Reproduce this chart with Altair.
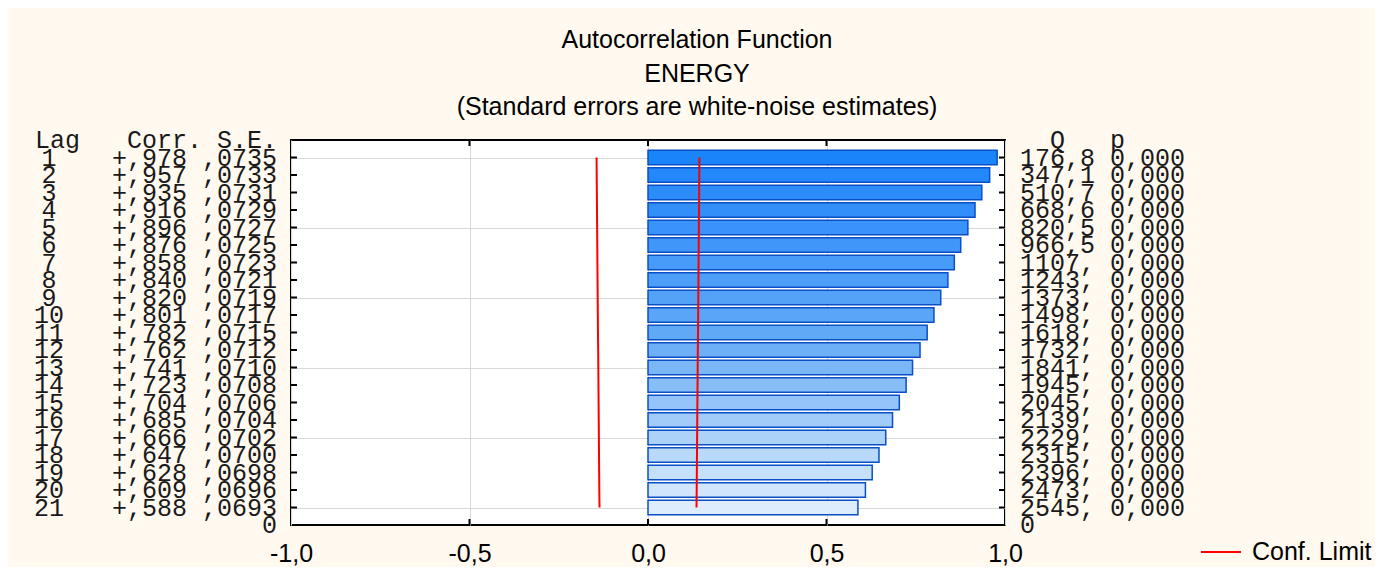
import altair as alt
import pandas as pd

# ---- data ----
lags = list(range(1, 22))
corr = [0.978, 0.957, 0.935, 0.916, 0.896, 0.876, 0.858, 0.840, 0.820, 0.801, 0.782,
        0.762, 0.741, 0.723, 0.704, 0.685, 0.666, 0.647, 0.628, 0.609, 0.588]
se = [0.0735, 0.0733, 0.0731, 0.0729, 0.0727, 0.0725, 0.0723, 0.0721, 0.0719, 0.0717, 0.0715,
      0.0712, 0.0710, 0.0708, 0.0706, 0.0704, 0.0702, 0.0700, 0.0698, 0.0696, 0.0693]
q_stat = [176.8, 347.1, 510.7, 668.6, 820.5, 966.5, 1107, 1243, 1373, 1498, 1618,
          1732, 1841, 1945, 2045, 2139, 2229, 2315, 2396, 2473, 2545]
p_val = [0.0] * 21
x_ticks = [-1.0, -0.5, 0.0, 0.5, 1.0]
inner_x_ticks = [-0.5, 0.0, 0.5]
title_lines = ["Autocorrelation Function", "ENERGY", "(Standard errors are white-noise estimates)"]
legend_label = "Conf. Limit"


def q_text(q):
    return f"{q:.1f}".replace(".", ",") if q < 1000 else f"{int(q)},"


def p_text(p):
    return f"{p:.3f}".replace(".", ",")


df = pd.DataFrame({"lag": lags, "corr": corr, "se": se})
df["lag_txt"] = [str(l) for l in lags]
df["left_txt"] = ["+," + f"{c:.3f}"[2:] + " ," + f"{s:.4f}"[2:] for c, s in zip(corr, se)]
df["right_txt"] = [f"{q_text(q):<5} {p_text(p)}" for q, p in zip(q_stat, p_val)]

conf_rows = []
for l, s in zip(lags, se):
    conf_rows.append({"lag": l, "limit": -1.96 * s, "side": "neg", "series": legend_label})
    conf_rows.append({"lag": l, "limit": 1.96 * s, "side": "pos", "series": legend_label})
conf_df = pd.DataFrame(conf_rows)

hdr_df = pd.DataFrame({"lag": [0], "a": ["Lag"], "b": ["Corr. S.E."], "q": ["Q"], "p": ["p"]})
zero_df = pd.DataFrame({"lag": [22], "t": ["0"]})
xt_df = pd.DataFrame({"xv": inner_x_ticks})

W, H = 714, 385
xs = alt.Scale(domain=[-1, 1], nice=False, zero=False)
ys = alt.Scale(domain=[0, 22], nice=False, zero=False, reverse=True)

x_axis = alt.Axis(values=x_ticks,
                  labelExpr="replace(replace(format(datum.value, '.1f'), '.', ','), '\u2212', '-')",
                  grid=True, gridColor="#d9d9d9", gridWidth=1, ticks=False, domain=False,
                  labelFont="Liberation Sans", labelFontSize=25, labelColor="black",
                  labelPadding=16, labelFlush=False, title=None)
y_axis = alt.Axis(values=lags, grid=True, gridColor="#d9d9d9", gridWidth=1,
                  labels=False, ticks=False, domain=False, title=None)

bars = alt.Chart(df).transform_calculate(
    y0="datum.lag - 0.41", y1="datum.lag + 0.41", x0="0"
).mark_rect(stroke="#0b4fc6", strokeWidth=1.5).encode(
    x=alt.X("x0:Q", scale=xs, axis=x_axis),
    x2="corr:Q",
    y=alt.Y("y0:Q", scale=ys, axis=y_axis),
    y2="y1:Q",
    fill=alt.Fill("lag:Q", scale=alt.Scale(domain=[1, 11, 21],
                                           range=["#1a84fb", "#60a9f6", "#ddedfd"]), legend=None),
)

lines = alt.Chart(conf_df).mark_line(strokeWidth=2).encode(
    x=alt.X("limit:Q", scale=xs),
    y=alt.Y("lag:Q", scale=ys),
    detail="side:N",
    order="lag:Q",
    stroke=alt.Stroke("series:N", scale=alt.Scale(domain=[legend_label], range=["#ff0000"]),
                      legend=alt.Legend(orient="none", legendX=909, legendY=391, title=None,
                                        symbolType="stroke", symbolSize=1600, symbolStrokeWidth=2,
                                        labelFont="Liberation Sans", labelFontSize=25,
                                        labelColor="black", labelOffset=10, padding=0)),
)

tick_l = alt.Chart(df).mark_rule(color="black", strokeWidth=2).encode(
    x=alt.value(0), x2=alt.value(6), y=alt.Y("lag:Q", scale=ys))
tick_r = alt.Chart(df).mark_rule(color="black", strokeWidth=2).encode(
    x=alt.value(W - 6), x2=alt.value(W), y=alt.Y("lag:Q", scale=ys))
tick_t = alt.Chart(xt_df).mark_rule(color="black", strokeWidth=2).encode(
    x=alt.X("xv:Q", scale=xs), y=alt.value(0), y2=alt.value(6))
tick_b = alt.Chart(xt_df).mark_rule(color="black", strokeWidth=2).encode(
    x=alt.X("xv:Q", scale=xs), y=alt.value(H - 6), y2=alt.value(H))

mono = dict(font="Liberation Mono", fontSize=25, baseline="middle", color="#1a1a1a")
lag_txt = alt.Chart(df).mark_text(align="center", **mono).encode(
    x=alt.value(-242), y=alt.Y("lag:Q", scale=ys), text="lag_txt:N")
left_txt = alt.Chart(df).mark_text(align="right", **mono).encode(
    x=alt.value(-14), y=alt.Y("lag:Q", scale=ys), text="left_txt:N")
right_txt = alt.Chart(df).mark_text(align="left", **mono).encode(
    x=alt.value(W + 15), y=alt.Y("lag:Q", scale=ys), text="right_txt:N")
hdr_a = alt.Chart(hdr_df).mark_text(align="left", **mono).encode(
    x=alt.value(-256), y=alt.Y("lag:Q", scale=ys), text="a:N")
hdr_b = alt.Chart(hdr_df).mark_text(align="right", **mono).encode(
    x=alt.value(-14), y=alt.Y("lag:Q", scale=ys), text="b:N")
hdr_q = alt.Chart(hdr_df).mark_text(align="left", **mono).encode(
    x=alt.value(W + 45), y=alt.Y("lag:Q", scale=ys), text="q:N")
hdr_p = alt.Chart(hdr_df).mark_text(align="left", **mono).encode(
    x=alt.value(W + 105), y=alt.Y("lag:Q", scale=ys), text="p:N")
zero_l = alt.Chart(zero_df).mark_text(align="right", **mono).encode(
    x=alt.value(-14), y=alt.Y("lag:Q", scale=ys), text="t:N")
zero_r = alt.Chart(zero_df).mark_text(align="left", **mono).encode(
    x=alt.value(W + 15), y=alt.Y("lag:Q", scale=ys), text="t:N")

chart = alt.layer(
    bars, lines, tick_l, tick_r, tick_t, tick_b,
    lag_txt, left_txt, right_txt, hdr_a, hdr_b, hdr_q, hdr_p, zero_l, zero_r,
).properties(
    width=W, height=H,
    title=alt.Title(title_lines, font="Liberation Sans", fontSize=25, fontWeight="normal",
                    color="black", lineHeight=33.5, anchor="middle", dx=49, offset=8),
    autosize=alt.AutoSizeParams(type="none"),
    padding={"left": 283, "top": 132, "right": 370, "bottom": 42},
    background="#FFF9EF",
).configure_view(
    stroke="black", strokeWidth=2, fill="white"
)

chart.save("out.html", embed_options={"renderer": "svg", "actions": False})
